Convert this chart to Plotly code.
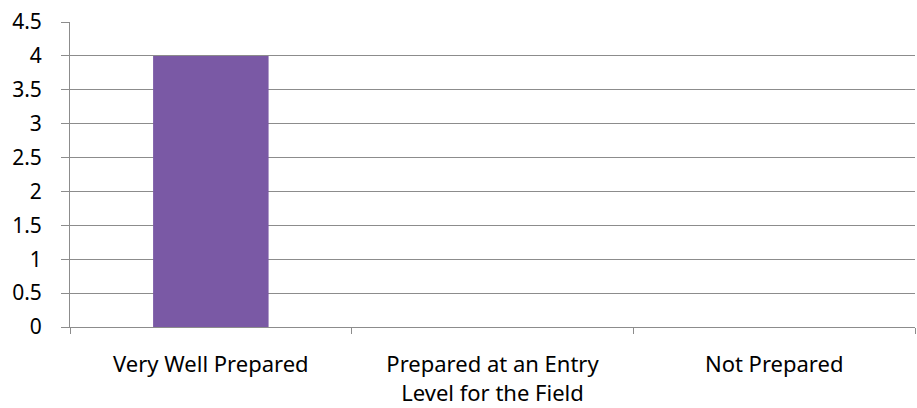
import plotly.graph_objects as go

categories = ["Very Well Prepared", "Prepared at an Entry<br>Level for the Field", "Not Prepared"]
values = [4, 0, 0]
y_ticks = [0, 0.5, 1, 1.5, 2, 2.5, 3, 3.5, 4, 4.5]
y_tick_labels = ["0", "0.5", "1", "1.5", "2", "2.5", "3", "3.5", "4", "4.5"]

fig = go.Figure()
fig.add_trace(go.Bar(
    x=categories, y=values, width=0.41,
    marker=dict(color="#7A59A5", line=dict(width=0)),
))

grid = "#8c8c8c"
fig.update_layout(
    width=917, height=408,
    margin=dict(l=70, r=2, t=22, b=81),
    paper_bgcolor="white", plot_bgcolor="white",
    font=dict(family="Noto Sans, Open Sans, sans-serif", size=22, color="#000000"),
    showlegend=False,
    xaxis=dict(
        automargin=False,
        showline=True, linecolor=grid, linewidth=1,
        ticks="outside", tickson="boundaries", ticklen=6, tickcolor=grid,
        showgrid=False, tickfont=dict(size=22),
        ticklabelstandoff=18,
    ),
    yaxis=dict(
        automargin=False,
        range=[0, 4.5], tickvals=y_ticks, ticktext=y_tick_labels,
        showgrid=True, gridcolor=grid, gridwidth=1,
        showline=True, linecolor=grid, linewidth=1,
        ticks="outside", ticklen=8, tickcolor=grid,
        zeroline=False, tickfont=dict(size=21),
        ticklabelstandoff=15,
    ),
)

fig.write_html(
    "out.html",
    config={"displayModeBar": False},
    post_script="document.body.style.margin='0';document.body.style.overflow='hidden';",
)
